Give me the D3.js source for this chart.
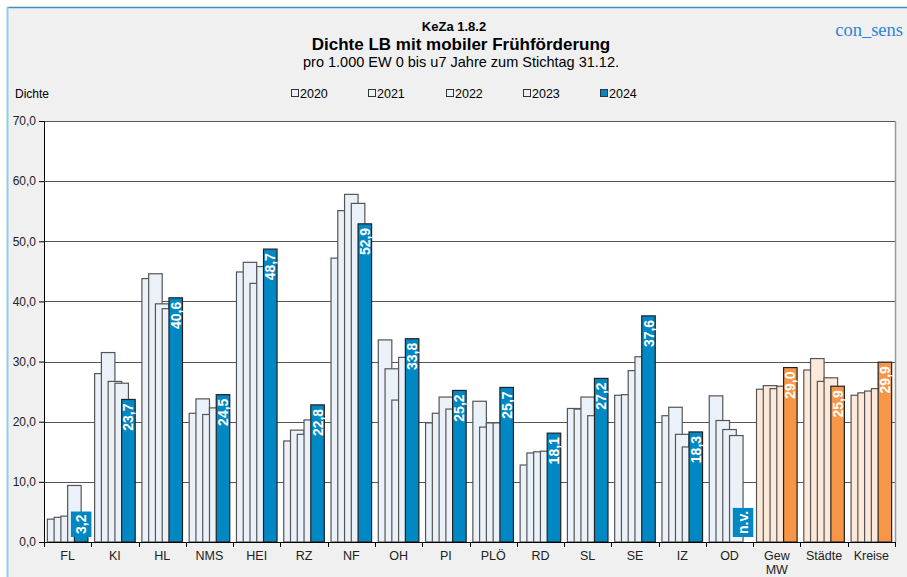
<!doctype html>
<html lang="de">
<head>
<meta charset="utf-8">
<style>
  body { margin: 0; background: #fff; }
  svg { display: block; font-family: "Liberation Sans", Arial, sans-serif; }
</style>
</head>
<body>
<script src="https://cdn.jsdelivr.net/npm/d3@7/dist/d3.min.js"></script>
<svg id="chart" width="907" height="577"></svg>
<script>
  // Data
  var categories = ["FL", "KI", "HL", "NMS", "HEI", "RZ", "NF", "OH", "PI", "PLÖ", "RD", "SL", "SE", "IZ", "OD", "Gew MW", "Städte", "Kreise"];
  var years = ["2020", "2021", "2022", "2023", "2024"];
  var v2020 = [3.8, 28.0, 43.8, 21.4, 44.9, 16.8, 47.2, 33.6, 19.8, 23.4, 12.8, 22.2, 24.4, 21.0, 24.3, 25.4, 28.6, 24.4];
  var v2021 = [4.1, 31.5, 44.6, 23.8, 46.5, 18.6, 55.1, 28.8, 21.4, 19.1, 14.8, 22.1, 24.5, 22.4, 20.2, 26.0, 30.5, 24.8];
  var v2022 = [4.3, 26.7, 39.6, 21.2, 43.0, 17.9, 57.8, 23.6, 24.1, 19.8, 15.0, 24.1, 28.5, 17.9, 18.7, 25.5, 26.7, 25.1];
  var v2023 = [9.4, 26.4, 38.8, 22.3, 45.8, 20.3, 56.3, 30.7, 22.1, 19.8, 15.1, 21.0, 30.8, 15.8, 17.7, 25.9, 27.3, 25.5];
  var v2024 = [3.2, 23.7, 40.6, 24.5, 48.7, 22.8, 52.9, 33.8, 25.2, 25.7, 18.1, 27.2, 37.6, 18.3, null, 29.0, 25.9, 29.9];
  var summaryCats = ["Gew MW", "Städte", "Kreise"];
  var yTicks = [0, 10, 20, 30, 40, 50, 60, 70];

  var series = [v2020, v2021, v2022, v2023, v2024];

  var svg = d3.select("#chart");
  var de = d3.formatLocale({decimal: ",", thousands: ".", grouping: [3], currency: ["", " €"]});
  var fmt = de.format(".1f");

  // frame
  svg.append("rect").attr("x", 7).attr("y", 7).attr("width", 900).attr("height", 570).attr("fill", "#f0f0f0");
  svg.append("line").attr("x1", 7).attr("x2", 907).attr("y1", 7.5).attr("y2", 7.5).attr("stroke", "#3d8fc4").attr("stroke-width", 1.5);
  svg.append("line").attr("x1", 7.5).attr("x2", 7.5).attr("y1", 7).attr("y2", 577).attr("stroke", "#8fcbe6").attr("stroke-width", 2);

  // titles
  svg.append("text").attr("x", 454).attr("y", 31).attr("text-anchor", "middle")
     .style("font-size", "13px").style("font-weight", "bold").text("KeZa 1.8.2");
  svg.append("text").attr("x", 461).attr("y", 50).attr("text-anchor", "middle")
     .style("font-size", "17px").style("font-weight", "bold").text("Dichte LB mit mobiler Frühförderung");
  svg.append("text").attr("x", 461).attr("y", 67).attr("text-anchor", "middle")
     .style("font-size", "14.5px").text("pro 1.000 EW 0 bis u7 Jahre zum Stichtag 31.12.");
  svg.append("text").attr("x", 903).attr("y", 36).attr("text-anchor", "end")
     .style("font-family", "'Liberation Serif', 'DejaVu Serif', serif").style("font-size", "18.5px")
     .attr("fill", "#2a86d8").text("con_sens");
  svg.append("text").attr("x", 15).attr("y", 98).style("font-size", "12px").text("Dichte");

  // legend
  var legX = [291, 368, 446, 523, 600];
  var legend = svg.append("g").selectAll("g").data(years).enter().append("g")
    .attr("transform", function(d, i) { return "translate(" + legX[i] + ",93)"; });
  legend.append("rect").attr("x", 0.5).attr("y", -3.5).attr("width", 7).attr("height", 7)
    .attr("fill", function(d, i) { return i == 4 ? "#0088c4" : "#eaf1f8"; })
    .attr("stroke", "#333").attr("stroke-width", 1);
  legend.append("text").attr("x", 9).attr("y", 5).style("font-size", "12.5px").text(function(d) { return d; });

  // scales
  var pLeft = 44, pRight = 895, pTop = 121, pBottom = 542;
  var x = d3.scaleBand().domain(categories).range([pLeft, pRight]).padding(0);
  var y = d3.scaleLinear().domain([0, 70]).range([pBottom, pTop]);
  var barW = x.bandwidth() * 0.286;
  var xi = d3.scalePoint().domain(years).range([3.35, x.bandwidth() - 3.35 - barW]);

  svg.append("rect").attr("x", pLeft).attr("y", pTop).attr("width", pRight - pLeft).attr("height", pBottom - pTop).attr("fill", "#fff");

  // grid
  svg.append("g").selectAll("line").data(yTicks.slice(1)).enter().append("line")
    .attr("x1", pLeft).attr("x2", pRight)
    .attr("y1", function(d) { return Math.round(y(d)) + 0.5; })
    .attr("y2", function(d) { return Math.round(y(d)) + 0.5; })
    .attr("stroke", "#555").attr("stroke-width", 1.2);
  svg.append("line").attr("x1", pRight + 0.5).attr("x2", pRight + 0.5).attr("y1", pTop).attr("y2", pBottom)
    .attr("stroke", "#999").attr("stroke-width", 1.5);

  // bars
  var isSum = function(c) { return summaryCats.indexOf(c) >= 0; };
  var fillFor = function(c, yi) {
    if (isSum(c)) return yi == 4 ? "#f79646" : "#fde9d9";
    return yi == 4 ? "#0088c4" : "#eaf1f8";
  };

  var groups = svg.append("g").selectAll("g").data(categories).enter().append("g")
    .attr("transform", function(d) { return "translate(" + x(d) + ",0)"; });

  groups.each(function(c, ci) {
    var g = d3.select(this);
    series.forEach(function(s, yi) {
      var v = s[ci];
      if (v == null) return;
      g.append("rect")
        .attr("x", xi(years[yi]))
        .attr("y", y(v))
        .attr("width", barW)
        .attr("height", y(0) - y(v))
        .attr("fill", fillFor(c, yi))
        .attr("stroke", yi == 4 ? "#222" : "#555")
        .attr("stroke-width", 1.2);
    });
  });

  // labels for 2024
  groups.each(function(c, ci) {
    var g = d3.select(this);
    var v = v2024[ci];
    var txt = v == null ? "n.v." : fmt(v);
    var cx = xi("2024") + barW / 2;
    var t = g.append("text")
      .style("font-size", "14px").style("font-weight", "bold")
      .attr("fill", "#fff").attr("text-anchor", "end")
      .text(txt);
    var len = t.node().getComputedTextLength();
    var boxLen = len + 6;
    var topY = v == null ? pBottom : y(v);
    var boxTop = topY + 1;
    var small = (pBottom - boxTop) < boxLen + 4;
    if (small) boxTop = pBottom - 5 - boxLen;
    if (small) {
      g.insert("rect", "text")
        .attr("x", cx - (barW + 7) / 2).attr("y", boxTop)
        .attr("width", barW + 7).attr("height", boxLen)
        .attr("fill", fillFor(c, 4));
    }
    t.attr("transform", "translate(" + (cx + 5) + "," + (boxTop + 3) + ") rotate(-90)");
  });

  // axes
  var yAxis = d3.axisLeft(y).tickValues(yTicks).tickSize(5).tickFormat(fmt);
  var ya = svg.append("g").attr("transform", "translate(" + pLeft + ",0)").call(yAxis);
  ya.select(".domain").attr("stroke", "#000");
  ya.selectAll("text").style("font-size", "12px").attr("fill", "#222").attr("x", -8);
  ya.selectAll(".tick line").attr("stroke", "#000");

  svg.append("line").attr("x1", pLeft).attr("x2", pRight + 1).attr("y1", pBottom + 0.5).attr("y2", pBottom + 0.5)
    .attr("stroke", "#000").attr("stroke-width", 1);
  var edges = categories.map(function(c) { return x(c); }).concat([pRight]);
  svg.append("g").selectAll("line").data(edges).enter().append("line")
    .attr("x1", function(d) { return Math.round(d) + 0.5; })
    .attr("x2", function(d) { return Math.round(d) + 0.5; })
    .attr("y1", pBottom).attr("y2", pBottom + 5)
    .attr("stroke", "#000");

  var xl = svg.append("g").selectAll("text").data(categories).enter().append("text")
    .attr("x", function(d) { return x(d) + x.bandwidth() / 2; })
    .attr("y", 560).attr("text-anchor", "middle")
    .style("font-size", "12.5px").attr("fill", "#222");
  xl.each(function(d) {
    var parts = d.split(" ");
    var el = d3.select(this);
    parts.forEach(function(p, i) {
      el.append("tspan").attr("x", el.attr("x")).attr("dy", i == 0 ? 0 : 14).text(p);
    });
  });
</script>
</body>
</html>
